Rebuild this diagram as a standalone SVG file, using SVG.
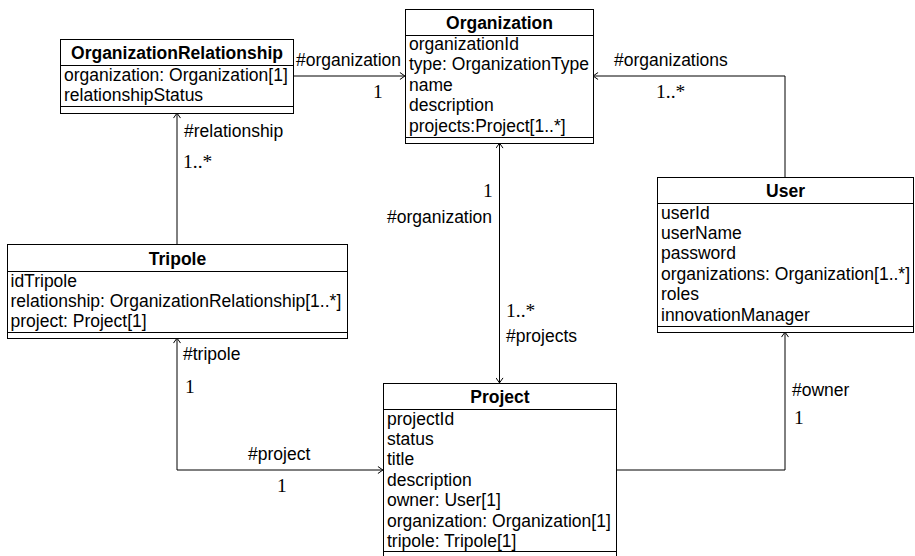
<svg xmlns="http://www.w3.org/2000/svg" width="915" height="556" viewBox="0 0 915 556">
<style>
.box{fill:#fff;stroke:#000;stroke-width:1}
.sep{stroke:#000;stroke-width:1}
.t{font-family:"Liberation Sans",Arial,Helvetica,sans-serif;font-size:17.5px;fill:#000}
.ttl{font-weight:bold;text-anchor:middle}
.m{font-family:"Liberation Serif","Times New Roman",serif;font-size:19.5px;fill:#000}
.conn{fill:none;stroke:#000;stroke-width:1}
.a{marker-end:url(#arr)}
.aa{marker-start:url(#arr);marker-end:url(#arr)}
</style>
<defs>
<marker id="arr" viewBox="0 0 6 8" refX="5.6" refY="4" markerWidth="6" markerHeight="8" orient="auto-start-reverse" markerUnits="userSpaceOnUse">
<path d="M0.5,0.5 L5.5,4 L0.5,7.5" fill="none" stroke="#000" stroke-width="1"/>
</marker>
</defs>
<rect width="915" height="556" fill="#fff"/>

<g id="connectors">
<path class="conn a" d="M293,76 H405"/>
<path class="conn a" d="M177,244 V113"/>
<path class="conn a" d="M785,177 V76 H593"/>
<path class="conn aa" d="M499.5,143 V383"/>
<path class="conn aa" d="M177,338 V470 H383"/>
<path class="conn a" d="M616,470 H785 V332"/>
<text class="t" x="296" y="65.5">#organization</text>
<text class="m" x="373" y="98">1</text>
<text class="t" x="184" y="137">#relationship</text>
<text class="m" x="183" y="168">1..*</text>
<text class="t" x="614" y="66">#organizations</text>
<text class="m" x="656" y="98">1..*</text>
<text class="m" x="483" y="197">1</text>
<text class="t" x="387" y="223">#organization</text>
<text class="m" x="506" y="317">1..*</text>
<text class="t" x="506" y="342">#projects</text>
<text class="t" x="183" y="360">#tripole</text>
<text class="m" x="185" y="393">1</text>
<text class="t" x="248" y="460">#project</text>
<text class="m" x="277" y="492">1</text>
<text class="t" x="792" y="396">#owner</text>
<text class="m" x="794" y="424">1</text>
</g>

<g id="node-organization">
<rect class="box" x="405.5" y="9.5" width="188" height="134"/>
<line class="sep" x1="405.5" y1="35.5" x2="593.5" y2="35.5"/>
<line class="sep" x1="405.5" y1="137.5" x2="593.5" y2="137.5"/>
<text class="t ttl" x="499.5" y="28.5">Organization</text>
<text class="t" x="409" y="50">organizationId</text>
<text class="t" x="409" y="70.4">type: OrganizationType</text>
<text class="t" x="409" y="90.8">name</text>
<text class="t" x="409" y="111.2">description</text>
<text class="t" x="409" y="131.6">projects:Project[1..*]</text>
</g>

<g id="node-organizationrelationship">
<rect class="box" x="60.5" y="39.5" width="233" height="74"/>
<line class="sep" x1="60.5" y1="65.5" x2="293.5" y2="65.5"/>
<line class="sep" x1="60.5" y1="106.5" x2="293.5" y2="106.5"/>
<text class="t ttl" x="177" y="58.5">OrganizationRelationship</text>
<text class="t" x="64" y="80.5">organization: Organization[1]</text>
<text class="t" x="64" y="101">relationshipStatus</text>
</g>

<g id="node-tripole">
<rect class="box" x="7.5" y="244.5" width="340" height="94"/>
<line class="sep" x1="7.5" y1="271.5" x2="347.5" y2="271.5"/>
<line class="sep" x1="7.5" y1="332.5" x2="347.5" y2="332.5"/>
<text class="t ttl" x="177.5" y="264.5">Tripole</text>
<text class="t" x="10.5" y="286.5">idTripole</text>
<text class="t" x="10.5" y="307">relationship: OrganizationRelationship[1..*]</text>
<text class="t" x="10.5" y="327">project: Project[1]</text>
</g>

<g id="node-user">
<rect class="box" x="657.5" y="177.5" width="256" height="155"/>
<line class="sep" x1="657.5" y1="203.5" x2="913.5" y2="203.5"/>
<line class="sep" x1="657.5" y1="326.5" x2="913.5" y2="326.5"/>
<text class="t ttl" x="785.5" y="196.5">User</text>
<text class="t" x="661" y="218.5">userId</text>
<text class="t" x="661" y="238.9">userName</text>
<text class="t" x="661" y="259.3">password</text>
<text class="t" x="661" y="279.7">organizations: Organization[1..*]</text>
<text class="t" x="661" y="300.1">roles</text>
<text class="t" x="661" y="320.5">innovationManager</text>
</g>

<g id="node-project">
<rect class="box" x="383.5" y="383.5" width="233" height="174"/>
<line class="sep" x1="383.5" y1="409.5" x2="616.5" y2="409.5"/>
<line class="sep" x1="383.5" y1="551.5" x2="616.5" y2="551.5"/>
<text class="t ttl" x="500" y="402.5">Project</text>
<text class="t" x="387" y="424.5">projectId</text>
<text class="t" x="387" y="444.9">status</text>
<text class="t" x="387" y="465.3">title</text>
<text class="t" x="387" y="485.7">description</text>
<text class="t" x="387" y="506.1">owner: User[1]</text>
<text class="t" x="387" y="526.5">organization: Organization[1]</text>
<text class="t" x="387" y="546.9">tripole: Tripole[1]</text>
</g>
</svg>
